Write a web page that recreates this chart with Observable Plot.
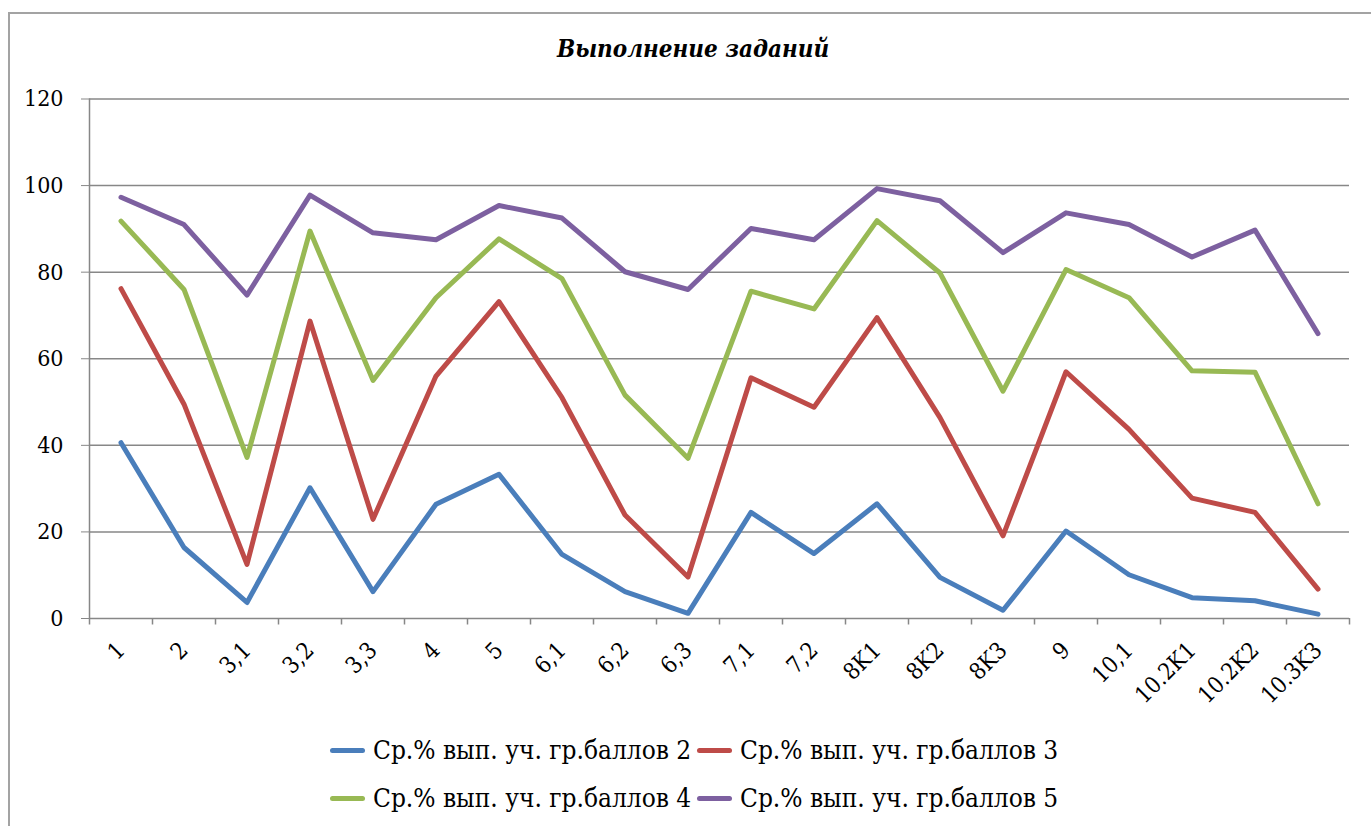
<!DOCTYPE html>
<html>
<head>
<meta charset="utf-8">
<script src="https://cdn.jsdelivr.net/npm/d3@7"></script>
<script src="https://cdn.jsdelivr.net/npm/@observablehq/plot@0.6"></script>
<style>
  html, body { margin: 0; padding: 0; background: #fff; }
  #wrap { position: relative; width: 1371px; height: 826px; overflow: hidden; background: #fff; font-family: 'DejaVu Serif'; font-stretch: condensed; }
  #frame { position: absolute; left: 8px; top: 12px; width: 1420px; height: 900px; border: 2px solid #a3a3a3; box-sizing: border-box; }
  #title { position: absolute; left: 0; width: 1386px; top: 34px; text-align: center; font-size: 24px; font-weight: bold; font-style: italic; color: #000; }
  #chart { position: absolute; left: 0; top: 0; }
  #chart svg { font-stretch: condensed; }
  #chart svg text { fill: #000; }
  #legend { position: absolute; left: 330px; top: 733px; display: grid; grid-template-columns: 367px 367px; grid-auto-rows: 48px; font-size: 26px; color: #000; }
  .item { display: flex; align-items: center; height: 34px; white-space: nowrap; }
  .sw { width: 35px; height: 5px; border-radius: 3px; margin-right: 8px; flex: none; }
</style>
</head>
<body>
<div id="wrap">
  <div id="frame"></div>
  <div id="chart"></div>
  <div id="title">Выполнение заданий</div>
  <div id="legend"></div>
</div>
<script>
const categories = ["1","2","3,1","3,2","3,3","4","5","6,1","6,2","6,3","7,1","7,2","8K1","8K2","8K3","9","10,1","10.2K1","10.2K2","10.3K3"];
const grade2 = [40.6,16.4,3.7,30.2,6.2,26.4,33.3,14.8,6.2,1.2,24.5,15.0,26.5,9.5,1.9,20.2,10.1,4.8,4.1,1.0];
const grade3 = [76.2,49.5,12.5,68.7,22.9,56.0,73.2,51.0,23.9,9.6,55.6,48.8,69.5,46.4,19.1,57.0,43.7,27.8,24.5,6.8];
const grade4 = [91.8,76.0,37.2,89.5,55.0,74.1,87.7,78.5,51.6,37.0,75.6,71.5,91.9,79.8,52.5,80.6,74.1,57.2,56.9,26.5];
const grade5 = [97.3,91.0,74.7,97.8,89.1,87.5,95.4,92.5,80.1,76.0,90.1,87.5,99.3,96.5,84.5,93.7,91.0,83.5,89.7,65.8];
const seriesNames = ["Ср.% вып. уч. гр.баллов 2","Ср.% вып. уч. гр.баллов 3","Ср.% вып. уч. гр.баллов 4","Ср.% вып. уч. гр.баллов 5"];
const seriesColors = ["#4a7ebb","#be4b48","#98b954","#7d60a0"];
const yTicks = [0,20,40,60,80,100,120];

const allSeries = [grade2, grade3, grade4, grade5];
const rows = [];
allSeries.forEach((vals, si) => {
  vals.forEach((v, i) => rows.push({cat: categories[i], value: v, series: seriesNames[si]}));
});

const W = 1371, H = 700, ML = 89, MR = 22, MT = 98.5, MB = 82;
const bw = (W - ML - MR) / categories.length;

const chart = Plot.plot({
  width: W,
  height: H,
  marginLeft: ML,
  marginRight: MR,
  marginTop: MT,
  marginBottom: MB,
  style: {background: "transparent", color: "#878787", fontFamily: "'DejaVu Serif'", fontSize: "23px", overflow: "visible"},
  x: {type: "band", domain: categories, padding: 0, tickSize: 0, tickPadding: 28, tickRotate: -45, label: null},
  y: {domain: [0, 120], ticks: yTicks, tickSize: 8, tickPadding: 18, label: null, tickFormat: d => String(d)},
  color: {domain: seriesNames, range: seriesColors},
  marks: [
    Plot.ruleY(yTicks, {stroke: "#878787", strokeWidth: 1.5}),
    Plot.ruleX(categories.slice(0, 1), {x: d => d, y1: -1.5, y2: 120, dx: -bw / 2, stroke: "#878787", strokeWidth: 1.5}),
    Plot.ruleX(categories.slice(1), {x: d => d, y1: -1.5, y2: 0, dx: -bw / 2, stroke: "#878787", strokeWidth: 1.5}),
    Plot.ruleX(categories.slice(-1), {x: d => d, y1: -1.5, y2: 0, dx: bw / 2, stroke: "#878787", strokeWidth: 1.5}),
    Plot.line(rows, {x: "cat", y: "value", z: "series", stroke: "series", strokeWidth: 5, strokeLinejoin: "round", strokeLinecap: "round"})
  ]
});
document.getElementById("chart").appendChild(chart);

const legend = document.getElementById("legend");
seriesNames.forEach((name, i) => {
  const item = document.createElement("div");
  item.className = "item";
  const sw = document.createElement("span");
  sw.className = "sw";
  sw.style.background = seriesColors[i];
  const label = document.createElement("span");
  label.textContent = name;
  item.appendChild(sw);
  item.appendChild(label);
  legend.appendChild(item);
});
</script>
</body>
</html>
